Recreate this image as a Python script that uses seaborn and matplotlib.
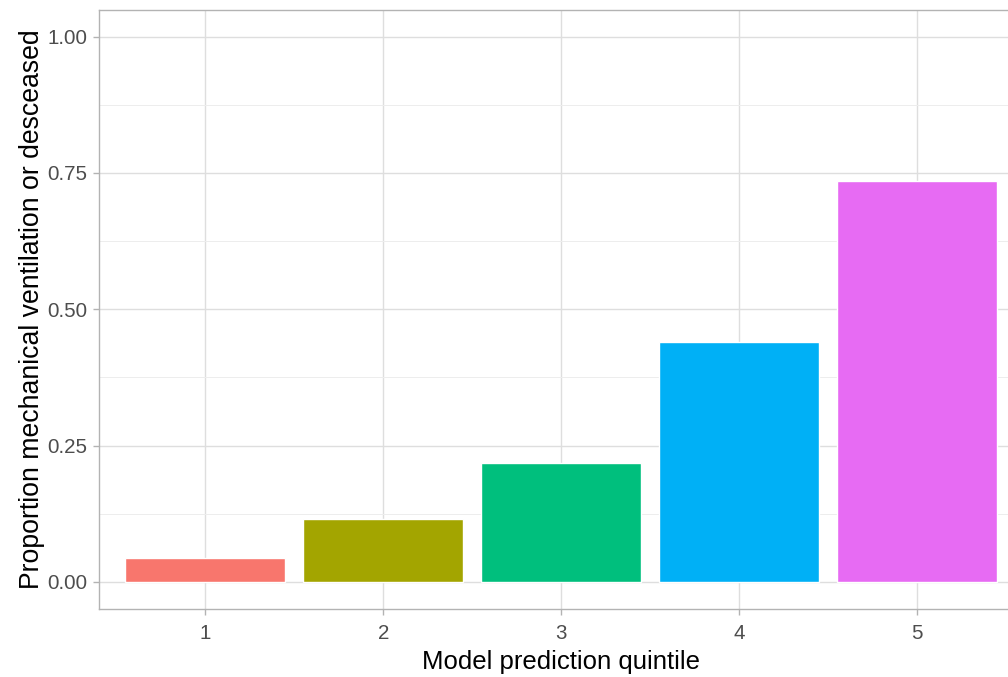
import matplotlib
matplotlib.use('Agg')
import matplotlib.pyplot as plt
import seaborn as sns
import pandas as pd
from matplotlib.ticker import MultipleLocator

# 数据
quintiles = ['1', '2', '3', '4', '5']
proportions = [0.044, 0.115, 0.217, 0.439, 0.735]
bar_colors = ['#F8766D', '#A3A500', '#00BF7D', '#00B0F6', '#E76BF3']

df = pd.DataFrame({'quintile': quintiles, 'proportion': proportions})

sns.set_theme(style='white')
plt.rcParams['font.family'] = ['Liberation Sans', 'DejaVu Sans']

fig = plt.figure(figsize=(10.08, 6.77), dpi=100)
# 面板右侧超出画布（原图被裁切）
ax = fig.add_axes([98.8 / 1008, 1 - 609 / 677, (1023.4 - 98.8) / 1008, (609 - 9.5) / 677])

sns.barplot(data=df, x='quintile', y='proportion', hue='quintile',
            palette=bar_colors, width=0.9, saturation=1, legend=False, ax=ax)

ax.set_xlim(-0.6, 4.6)
ax.set_ylim(-0.05, 1.05)
ax.yaxis.set_minor_locator(MultipleLocator(0.125))
ax.set_yticks([0, 0.25, 0.5, 0.75, 1.0])
ax.set_yticklabels(['0.00', '0.25', '0.50', '0.75', '1.00'])

ax.set_axisbelow(True)
ax.grid(True, which='major', color='#DEDEDE', linewidth=1.0)
ax.grid(True, which='minor', axis='y', color='#EDEDED', linewidth=0.7)

for s in ax.spines.values():
    s.set_visible(True)
    s.set_color('#B3B3B3')
    s.set_linewidth(1.0)

ax.tick_params(axis='both', which='major', length=4, width=1, color='#B3B3B3',
               labelsize=14.8, labelcolor='#4D4D4D', pad=4,
               bottom=True, left=True)
ax.tick_params(axis='x', which='major', pad=7)
ax.tick_params(axis='y', which='minor', length=0)

ax.set_xlabel('Model prediction quintile', fontsize=18.5, color='black', labelpad=5)
ax.set_ylabel('Proportion mechanical ventilation or desceased', fontsize=19.2,
              color='black', labelpad=2)

fig.savefig('out.png', dpi=100)
